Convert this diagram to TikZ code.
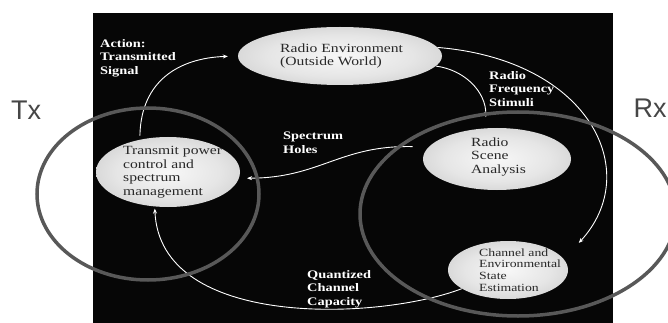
\documentclass[tikz,border=0pt]{standalone}
\usepackage{fontspec}
\setmainfont{Liberation Serif}[FakeStretch=1.25]
\newfontfamily\tagfont{Liberation Sans}
\usetikzlibrary{arrows.meta, shapes.geometric, positioning}
\definecolor{SceneBlack}{RGB}{6,6,6}
\definecolor{ZoneGray}{RGB}{88,88,88}
\definecolor{BubbleEdge}{RGB}{175,175,175}
\definecolor{BubbleText}{RGB}{40,40,40}
\definecolor{TagGray}{RGB}{70,70,70}
\pgfdeclareradialshading{bubbleglow}{\pgfpoint{0bp}{0bp}}{%
  color(0bp)=(white!97!black); color(18bp)=(white!90!black);
  color(50bp)=(BubbleEdge); color(70bp)=(BubbleEdge)}

\begin{document}
\begin{tikzpicture}[x=1pt,y=-1pt,
    bubble/.style={ellipse,inner sep=0pt,shading=bubbleglow},
    bubbletext/.style={align=left,inner sep=0pt,anchor=west,text=BubbleText,
                       font=\fontsize{12.5}{13.5}\selectfont},
    cue/.style={align=left,inner sep=0pt,anchor=west,text=white,
                font=\bfseries\fontsize{11.5}{13.5}\selectfont},
    flow/.style={draw=white,line width=0.9pt,-{Stealth[length=5pt,width=4pt]}},
    zone/.style={ellipse,draw=ZoneGray,line width=3.5pt,inner sep=0pt},
    tag/.style={text=TagGray,font=\tagfont\fontsize{27}{27}\selectfont,inner sep=0pt}
  ]
  \useasboundingbox (0,0) rectangle (668,323);
  \fill[SceneBlack] (93,13) rectangle (613,323);
  % the four stages
  \node[bubble,minimum width=204pt,minimum height=58pt] (env) at (340,56) {};
  \node[bubble,minimum width=148pt,minimum height=62pt] (scene) at (497,159) {};
  \node[bubble,minimum width=144pt,minimum height=70pt] (tpc) at (168,172) {};
  \node[bubble,minimum width=120pt,minimum height=58pt] (cse) at (508,270) {};
  \node[bubbletext] (envtext) at (280,56) {Radio Environment\\(Outside World)};
  \node[bubbletext] (scenetext) at (471,157) {Radio\\Scene\\Analysis};
  \node[bubbletext] (tpctext) at (123,172) {Transmit power\\control and\\spectrum\\management};
  \node[bubbletext,font=\fontsize{11}{11.8}\selectfont] (csetext) at (479,270)
    {Channel and\\Environmental\\State\\Estimation};
  % cycle
  \draw[flow,shorten <=4pt,shorten >=10pt] (tpc.131) .. controls (141,80) and (180,58) .. (env.west);
  \draw[flow,shorten >=22pt] (env.5) .. controls (590,60) and (644,172) .. (cse.11);
  \draw[flow,shorten >=11pt] (env.-6) .. controls (465,70) and (486,92) .. (scene.110);
  \draw[flow,shorten <=16pt,shorten >=8pt] (scene.170) .. controls (340,145) and (320,178) .. (tpc.-5);
  \draw[flow,shorten >=2pt] (cse.-158) .. controls (380,320) and (160,330) .. (tpc.-111);
  \node[cue] (action) at (100,58) {Action:\\Transmitted\\Signal};
  \node[cue] (stimuli) at (489,89) {Radio\\Frequency\\Stimuli};
  \node[cue] (holes) at (283,143) {Spectrum\\Holes};
  \node[cue] (capacity) at (307,289) {Quantized\\Channel\\Capacity};
  % Tx and Rx sides
  \node[zone,minimum width=222pt,minimum height=172pt] (txzone) at (148,194) {};
  \node[zone,minimum width=316pt,minimum height=204pt] (rxzone) at (518,214) {};
  \node[tag] (tx) at (26,110) {Tx};
  \node[tag] (rx) at (650,108) {Rx};
\end{tikzpicture}
\end{document}
